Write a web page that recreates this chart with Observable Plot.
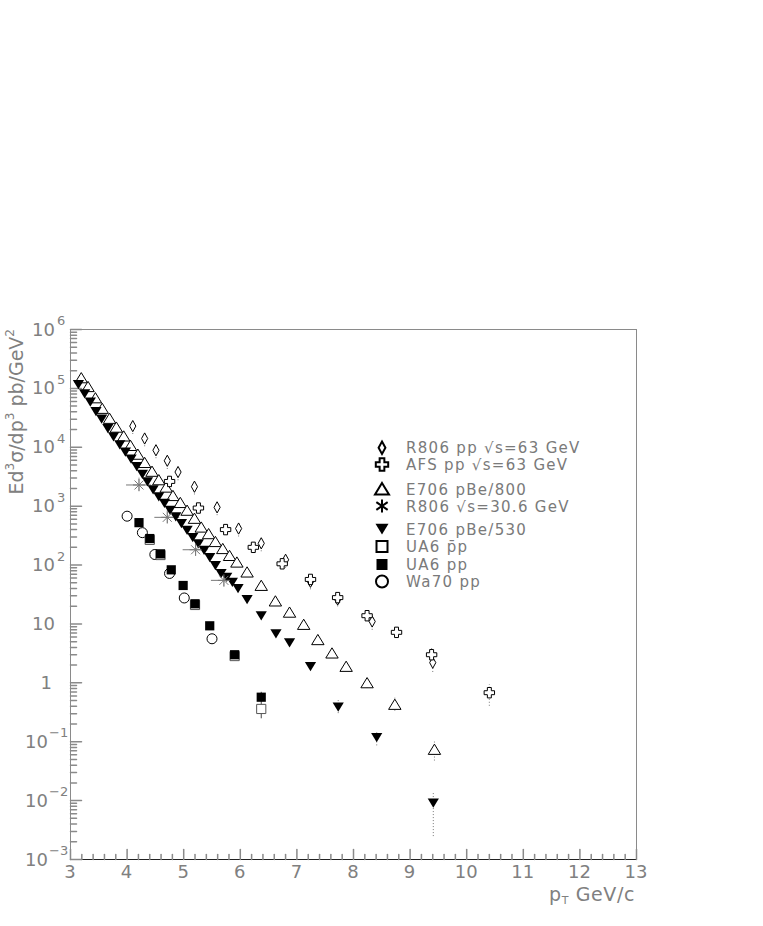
<!DOCTYPE html>
<html><head><meta charset="utf-8">
<script src="https://cdn.jsdelivr.net/npm/d3@7"></script>
<script src="https://cdn.jsdelivr.net/npm/@observablehq/plot@0.6"></script>
<style>
html,body{margin:0;padding:0;background:#fff;}
#chart{position:relative;width:763px;height:926px;}
svg text{font-family:"DejaVu Sans",sans-serif;}
</style></head><body><div id="chart"></div>
<script>
// ---------------- data ----------------
const seriesNames = ["R806 pp \u221As=63 GeV","AFS pp \u221As=63 GeV","E706 pBe/800","R806 \u221As=30.6 GeV","E706 pBe/530","UA6 p\u0304p","UA6 pp","Wa70 pp"];

// E706 pBe/800 (open triangles)
const e800_pt  = [3.19,3.31,3.44,3.56,3.69,3.81,3.94,4.06,4.19,4.31,4.44,4.56,4.69,4.81,4.94,5.06,5.19,5.31,5.44,5.56,5.69,5.81,5.94,6.12,6.37,6.62,6.87,7.12,7.37,7.62,7.87,8.24,8.73,9.43];
const e800_val = [151000,107000,69000,45700,30900,21900,15500,10700,7600,5500,3900,2800,2100,1510,1150,850,620,440,340,250,190,145,112,76,45,24.5,15.8,9.8,5.4,3.2,1.9,1.0,0.43,0.074];
const e800_err_pt = [8.24,8.73,9.43];
const e800_err_lo = [0.8,0.33,0.047];
const e800_err_hi = [1.25,0.55,0.1];

// E706 pBe/530 (filled down triangles)
const e530_pt  = [3.14,3.25,3.35,3.45,3.55,3.66,3.76,3.87,3.97,4.07,4.17,4.27,4.36,4.46,4.56,4.66,4.76,4.86,4.96,5.06,5.16,5.26,5.36,5.46,5.56,5.66,5.76,5.86,5.96,6.12,6.37,6.63,6.87,7.24,7.73,8.41,9.41];
const e530_val = [117000,81000,59000,40700,30200,20900,15100,11000,8300,6300,4700,3500,2600,1900,1450,1120,850,660,510,390,295,230,178,135,98,72,62,51,40,26,13.8,6.8,4.8,1.9,0.39,0.118,0.0091];
const e530_err_pt = [7.73,8.41,9.41];
const e530_err_lo = [0.3,0.085,0.00245];
const e530_err_hi = [0.5,0.15,0.0138];

// R806 pp sqrt(s)=63 GeV (diamonds)
const r63_pt  = [4.10,4.31,4.51,4.71,4.90,5.19,5.59,5.97,6.37,6.80,7.24,7.72,8.33,9.40];
const r63_val = [22900,14100,8900,5900,3800,2140,955,417,234,123,52,26,11,2.2];
const r63_lo  = [16500,10200,6400,4200,2700,1550,690,300,168,88,38,19.5,7.8,1.5];
const r63_hi  = [29000,18000,11300,7500,4800,2700,1210,530,297,156,66,34,14,2.9];

// AFS pp sqrt(s)=63 GeV (open crosses)
const afs_pt  = [4.75,5.26,5.74,6.23,6.74,7.24,7.72,8.24,8.76,9.38,10.40];
const afs_val = [2630,930,400,200,105,57,28,13.8,7.2,3.0,0.68];
const afs_lo  = [2150,760,330,165,86,47,23,11.3,5.9,2.3,0.40];
const afs_hi  = [3100,1100,470,235,124,67,33,16.3,8.5,3.8,0.93];

// R806 sqrt(s)=30.6 GeV (asterisks)
const r30_pt  = [4.21,4.71,5.21,5.71];
const r30_val = [2290,646,182,55];
const r30_dx  = [0.22,0.22,0.22,0.22];
const r30_lo  = [1750,500,140,42];
const r30_hi  = [3000,840,236,72];

// UA6 pbar-p (open squares) and pp (filled squares)
const ua6pb_pt  = [4.40,4.59,5.20,5.90,6.37];
const ua6pb_val = [268,148,21,2.85,0.36];
const ua6pb_err_pt = [6.37];
const ua6pb_err_lo = [0.245];
const ua6pb_err_hi = [0.69];
const ua6pp_pt  = [4.21,4.40,4.59,4.78,4.99,5.20,5.46,5.90,6.37];
const ua6pp_val = [525,282,155,83,45,22,9.3,3.0,0.57];

// Wa70 pp (open circles)
const wa70_pt  = [4.00,4.27,4.49,4.75,5.01,5.50];
const wa70_val = [676,355,151,72,27.6,5.6];

// axes
const xTicksMajor = [3,4,5,6,7,8,9,10,11,12,13];
const yExponents  = [6,5,4,3,2,1,0,-1,-2,-3];

// ---------------- helpers ----------------
const zip = (xs, ys) => xs.map((x, i) => ({x, y: ys[i]}));
const zipErr = (xs, lo, hi) => xs.map((x, i) => ({x, lo: lo[i], hi: hi[i]}));

function sym(fn){ return {draw(ctx, size){ const r = Math.sqrt(size/Math.PI); fn(ctx, r); }}; }
const triUp = sym((c,r)=>{c.moveTo(0,-0.85*r);c.lineTo(r,0.8*r);c.lineTo(-r,0.8*r);c.closePath();});
const triDown = sym((c,r)=>{c.moveTo(-r,-0.8*r);c.lineTo(r,-0.8*r);c.lineTo(0,0.85*r);c.closePath();});
const diamondN = sym((c,r)=>{c.moveTo(0,-r);c.lineTo(0.55*r,0);c.lineTo(0,r);c.lineTo(-0.55*r,0);c.closePath();});
const crossO = sym((c,r)=>{const a=0.38*r;
  c.moveTo(-a,-r);c.lineTo(a,-r);c.lineTo(a,-a);c.lineTo(r,-a);c.lineTo(r,a);c.lineTo(a,a);
  c.lineTo(a,r);c.lineTo(-a,r);c.lineTo(-a,a);c.lineTo(-r,a);c.lineTo(-r,-a);c.lineTo(-a,-a);c.closePath();});
const squareS = sym((c,r)=>{c.rect(-r,-r,2*r,2*r);});
const circleS = sym((c,r)=>{c.moveTo(r,0);c.arc(0,0,r,0,2*Math.PI);});
const asterS = sym((c,r)=>{c.moveTo(0,-r);c.lineTo(0,r);const d=r*0.75;
  c.moveTo(-d,-d);c.lineTo(d,d);c.moveTo(-d,d);c.lineTo(d,-d);c.moveTo(-r,0);c.lineTo(r,0);});
const asterLegend = sym((c,r)=>{c.moveTo(0,-r);c.lineTo(0,r);const dx=r*0.87, dy=r*0.6;
  c.moveTo(-dx,-dy);c.lineTo(dx,dy);c.moveTo(-dx,dy);c.lineTo(dx,-dy);});
const tickShape = {draw(ctx, l){ ctx.moveTo(0,0); ctx.lineTo(0,-l); }};

const yMajor = yExponents.map(e => Math.pow(10, e));
const yMinor = [];
for (let e = -3; e < 6; e++) for (let m = 2; m <= 9; m++) yMinor.push(m * Math.pow(10, e));
const xMinor = d3.range(3, 13.0001, 0.2).filter(v => Math.abs(v - Math.round(v)) > 1e-6);

const axisGray = "#8a8a8a";
const errDash = {stroke: "#555", strokeWidth: 0.8, strokeDasharray: "1,2"};

const plot = Plot.plot({
  width: 763, height: 926,
  marginTop: 329, marginRight: 127, marginBottom: 67, marginLeft: 70,
  x: {domain: [3, 13], axis: null},
  y: {type: "log", domain: [1e-3, 1e6], axis: null},
  marks: [
    Plot.frame({stroke: axisGray}),
    Plot.ruleY([1e-3], {stroke: "#222"}),
    Plot.ruleX([3], {stroke: axisGray}),
    Plot.vector(yMajor, {x: 3, y: d => d, rotate: 90, length: 11, anchor: "start", shape: tickShape, stroke: axisGray}),
    Plot.vector(yMinor, {x: 3, y: d => d, rotate: 90, length: 6, anchor: "start", shape: tickShape, stroke: axisGray}),
    Plot.vector(xTicksMajor, {x: d => d, y: 1e-3, rotate: 0, length: 10, anchor: "start", shape: tickShape, stroke: axisGray}),
    Plot.vector(xMinor, {x: d => d, y: 1e-3, rotate: 0, length: 5, anchor: "start", shape: tickShape, stroke: axisGray}),

    // error bars
    Plot.ruleX(zipErr(r63_pt, r63_lo, r63_hi), {x: "x", y1: "lo", y2: "hi", ...errDash}),
    Plot.ruleX(zipErr(afs_pt, afs_lo, afs_hi), {x: "x", y1: "lo", y2: "hi", ...errDash}),
    Plot.ruleX(zipErr(e800_err_pt, e800_err_lo, e800_err_hi), {x: "x", y1: "lo", y2: "hi", ...errDash}),
    Plot.ruleX(zipErr(e530_err_pt, e530_err_lo, e530_err_hi), {x: "x", y1: "lo", y2: "hi", ...errDash}),
    Plot.ruleX(zipErr(ua6pb_err_pt, ua6pb_err_lo, ua6pb_err_hi), {x: "x", y1: "lo", y2: "hi", stroke: "#444", strokeWidth: 1}),
    Plot.ruleX(zipErr(r30_pt, r30_lo, r30_hi), {x: "x", y1: "lo", y2: "hi", stroke: "#888", strokeWidth: 0.8}),
    Plot.ruleY(r30_pt.map((x, i) => ({y: r30_val[i], x1: x - r30_dx[i], x2: x + r30_dx[i]})), {y: "y", x1: "x1", x2: "x2", stroke: "#777", strokeWidth: 1}),

    // data
    Plot.dot(zip(e800_pt, e800_val), {x: "x", y: "y", symbol: triUp, r: 6.2, fill: "white", stroke: "#000", strokeWidth: 1}),
    Plot.dot(zip(e530_pt, e530_val), {x: "x", y: "y", symbol: triDown, r: 5.6, fill: "#000", stroke: "none"}),
    Plot.dot(zip(r63_pt, r63_val), {x: "x", y: "y", symbol: diamondN, r: 5.6, fill: "white", stroke: "#000", strokeWidth: 1}),
    Plot.dot(zip(afs_pt, afs_val), {x: "x", y: "y", symbol: crossO, r: 5.2, fill: "white", stroke: "#000", strokeWidth: 1}),
    Plot.dot(zip(r30_pt, r30_val), {x: "x", y: "y", symbol: asterS, r: 6, fill: "none", stroke: "#777", strokeWidth: 1}),
    Plot.dot(zip(wa70_pt, wa70_val), {x: "x", y: "y", symbol: circleS, r: 5, fill: "white", stroke: "#000", strokeWidth: 1}),
    Plot.dot(zip(ua6pb_pt, ua6pb_val), {x: "x", y: "y", symbol: squareS, r: 4.6, fill: "white", stroke: "#555", strokeWidth: 1}),
    Plot.dot(zip(ua6pp_pt, ua6pp_val), {x: "x", y: "y", symbol: squareS, r: 4.6, fill: "#000", stroke: "none"})
  ]
});

document.getElementById("chart").appendChild(plot);

// ---------------- text: tick labels, titles, legend ----------------
const sx = plot.scale("x"), sy = plot.scale("y");
const svg = d3.select(plot);
const lab = svg.append("g").attr("fill", "#808080");

// y tick labels
yExponents.forEach(e => {
  const yy = sy.apply(Math.pow(10, e));
  if (e === 0) {
    lab.append("text").attr("x", 52).attr("y", yy + 6.5).attr("text-anchor", "end").attr("font-size", 18).text("1");
  } else if (e === 1) {
    lab.append("text").attr("x", 55).attr("y", yy + 6.5).attr("text-anchor", "end").attr("font-size", 18).text("10");
  } else {
    const neg = e < 0;
    lab.append("text").attr("x", neg ? 48 : 55).attr("y", yy + 6.5).attr("text-anchor", "end").attr("font-size", 18).text("10");
    lab.append("text").attr("x", neg ? 49 : 57).attr("y", yy - 4).attr("text-anchor", "start").attr("font-size", 13)
      .text(neg ? "\u2212" + (-e) : String(e));
  }
});

// x tick labels
xTicksMajor.forEach(v => {
  lab.append("text").attr("x", sx.apply(v)).attr("y", 878).attr("text-anchor", "middle").attr("font-size", 18).text(String(v));
});

// x title
const xt = lab.append("text").attr("x", 635).attr("y", 901).attr("text-anchor", "end").attr("font-size", 19).attr("letter-spacing", 0.6);
xt.append("tspan").text("p");
xt.append("tspan").attr("font-size", 11).attr("dy", 3).text("T");
xt.append("tspan").attr("dy", -3).text(" GeV/c");

// y title
const yt = lab.append("text").attr("transform", "translate(23,329) rotate(-90)").attr("text-anchor", "end").attr("font-size", 19);
yt.append("tspan").text("Ed");
yt.append("tspan").attr("font-size", 12).attr("dy", -9).text("3");
yt.append("tspan").attr("dy", 9).text("\u03C3/dp");
yt.append("tspan").attr("font-size", 12).attr("dy", -9).text("3");
yt.append("tspan").attr("dy", 9).text(" pb/GeV");
yt.append("tspan").attr("font-size", 12).attr("dy", -9).text("2");

// legend
const legendSyms = [
  {s: diamondN, r: 6.2, fill: "white"},
  {s: crossO, r: 6.2, fill: "white"},
  {s: triUp, r: 7, fill: "white"},
  {s: asterLegend, r: 6.5, fill: "none"},
  {s: triDown, r: 6.5, fill: "#000", noStroke: true},
  {s: squareS, r: 5.5, fill: "white"},
  {s: squareS, r: 5.5, fill: "#000", noStroke: true},
  {s: circleS, r: 6, fill: "white"}
];
const legendRowY = [447.7, 464.5, 489, 506, 529, 546.5, 564.5, 581.5];
const lg = svg.append("g");
seriesNames.forEach((name, i) => {
  const p = d3.path();
  legendSyms[i].s.draw(p, legendSyms[i].r * legendSyms[i].r * Math.PI);
  lg.append("path").attr("d", p.toString())
    .attr("transform", `translate(382,${legendRowY[i]})`)
    .attr("fill", legendSyms[i].fill)
    .attr("stroke", legendSyms[i].noStroke ? "none" : "#000")
    .attr("stroke-width", 2);
  lg.append("text").attr("x", 406).attr("y", legendRowY[i] + 5.5).attr("text-anchor", "start")
    .attr("font-size", 15).attr("letter-spacing", 1.3).attr("fill", "#7a7a7a").text(name);
});
</script>
</body></html>
